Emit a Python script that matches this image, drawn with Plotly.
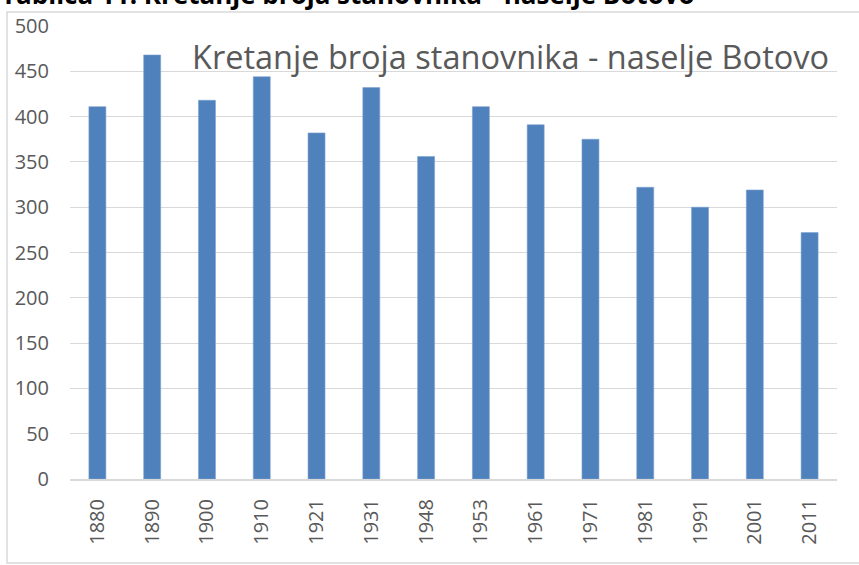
import plotly.graph_objects as go

years = ["1880", "1890", "1900", "1910", "1921", "1931", "1948", "1953",
         "1961", "1971", "1981", "1991", "2001", "2011"]
population = [411, 468, 418, 444, 382, 432, 356, 411, 391, 375, 322, 300, 319, 272]
y_ticks = [0, 50, 100, 150, 200, 250, 300, 350, 400, 450, 500]

chart_title = "Kretanje broja stanovnika - naselje Botovo"
caption = "Tablica 11: Kretanje broja stanovnika - naselje Botovo"

W, H = 859, 565
L, R, T, B = 70, 22, 26, 86
pw, ph = W - L - R, H - T - B

def px_x(x):
    return (x - L) / pw

def px_y(y):
    return (H - B - y) / ph

fig = go.Figure()
fig.add_trace(go.Bar(
    x=years, y=population,
    marker=dict(color="#4F81BD", line=dict(color="#7EA1D0", width=0.6)),
    width=0.31,
    showlegend=False,
))

fig.update_layout(
    width=W, height=H,
    margin=dict(l=L, r=R, t=T, b=B),
    paper_bgcolor="white", plot_bgcolor="white",
    font=dict(family="Open Sans", color="#595959"),
    xaxis=dict(
        type="category",
        tickangle=-90,
        tickfont=dict(size=20, color="#595959"),
        showgrid=False,
        showline=True, linecolor="#D9D9D9", linewidth=2,
        ticks="", ticklen=0,
        ticklabelstandoff=10,
    ),
    yaxis=dict(
        range=[0, 500],
        tickvals=y_ticks,
        tickfont=dict(size=20, color="#595959"),
        showgrid=True, gridcolor="#D9D9D9", gridwidth=1.3,
        zeroline=False,
        showline=False,
        ticks="", ticklen=0,
        ticklabelstandoff=20,
    ),
    bargap=0.69,
)

fig.add_annotation(
    text=chart_title, xref="paper", yref="paper",
    x=px_x(510), y=px_y(56), xanchor="center", yanchor="middle",
    showarrow=False, font=dict(family="Open Sans", size=32.5, color="#595959"),
)

fig.add_annotation(
    text="<b>" + caption + "</b>", xref="paper", yref="paper",
    x=px_x(-1), y=px_y(14), xanchor="left", yanchor="bottom",
    showarrow=False, font=dict(family="Open Sans", size=26, color="#000000"),
)

fig.add_shape(
    type="rect", xref="paper", yref="paper",
    x0=px_x(7), x1=px_x(870), y0=px_y(563), y1=px_y(12),
    line=dict(color="#D9D9D9", width=1.5), fillcolor="rgba(0,0,0,0)",
    layer="below",
)

fig.write_html("out.html", config={"displayModeBar": False},
               post_script="document.body.style.margin='0';")
